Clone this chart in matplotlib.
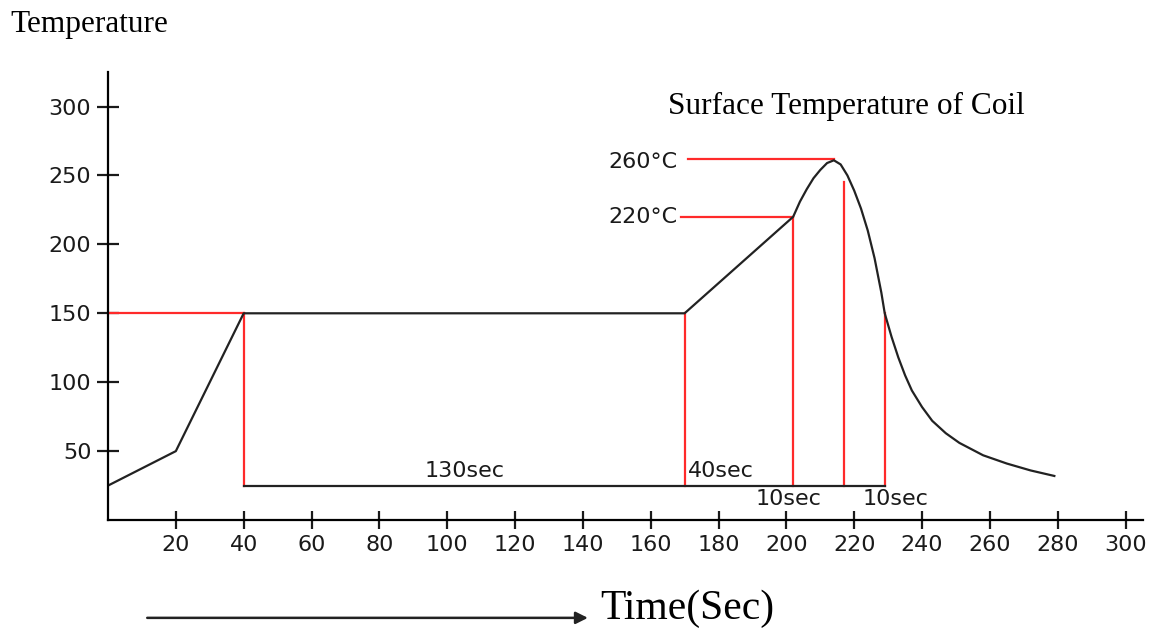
import numpy as np
import matplotlib
matplotlib.use("Agg")
import matplotlib.pyplot as plt

#   Кривая температуры
time = [0, 20, 40, 170, 202, 204, 206, 208, 210, 212, 214, 216, 218, 220,
        222, 224, 226, 228, 229, 231, 233, 235, 237, 240, 243, 247, 251,
        258, 265, 272, 279]
temp = [25, 50, 150, 150, 220, 231, 240, 248, 254, 259, 261, 258, 250, 239,
        226, 210, 190, 165, 150, 133, 118, 105, 94, 82, 72, 63, 56,
        47, 41, 36, 32]

x_ticks = [20, 40, 60, 80, 100, 120, 140, 160, 180, 200, 220, 240, 260, 280, 300]
y_ticks = [50, 100, 150, 200, 250, 300]

#   Красные отметки
t_marks = [40, 170, 202, 217, 229]
t_marks_top = [150, 150, 220, 245, 150]
base = 25
peak_t, peak_T = 214, 260
soak_T = 150
reflow_T = 220

fig = plt.figure(figsize=(11.65, 6.35), dpi=100)
ax = fig.add_axes([0.0927, 0.181, 0.888, 0.7055])
ax.set_xlim(0, 305)
ax.set_ylim(0, 325)

ax.spines['top'].set_visible(False)
ax.spines['right'].set_visible(False)
ax.spines['left'].set_linewidth(1.6)
ax.spines['bottom'].set_linewidth(1.6)

ax.set_xticks(x_ticks)
ax.set_yticks(y_ticks)
ax.tick_params(axis='x', direction='inout', length=13, width=1.6, pad=4, labelsize=16, colors='#1a1a1a')
ax.tick_params(axis='y', direction='inout', length=16, width=1.6, pad=4, labelsize=16, colors='#1a1a1a')

red = '#ff2a2a'
#   красные линии
ax.plot([0, 40], [soak_T, soak_T], color=red, lw=1.6)
ax.plot([171, peak_t], [peak_T + 2, peak_T + 2], color=red, lw=1.6)
ax.plot([169, 202], [reflow_T, reflow_T], color=red, lw=1.6)
for tm, top in zip(t_marks, t_marks_top):
    ax.plot([tm, tm], [base, top], color=red, lw=1.6)

#   базовая линия
ax.plot([40, 229], [base, base], color='#222222', lw=1.6)

#   кривая
ax.plot(time, temp, color='#222222', lw=1.6)

tf = dict(fontsize=16, color='#1a1a1a', family='DejaVu Sans')
ax.text(105, 28, "130sec", ha='center', va='bottom', **tf)
ax.text(171, 28, "40sec", ha='left', va='bottom', **tf)
ax.text(191, 8, "10sec", ha='left', va='bottom', **tf)
ax.text(222.5, 8, "10sec", ha='left', va='bottom', **tf)
ax.text(168, 260, "260°C", ha='right', va='center', **tf)
ax.text(168, 220, "220°C", ha='right', va='center', **tf)

sf = dict(family='Liberation Serif', color='black')
ax.text(165, 300, "Surface Temperature of Coil", ha='left', va='center', fontsize=22.5, **sf)
fig.text(0.009, 0.962, "Temperature", ha='left', va='center', fontsize=22.5, **sf)
fig.text(0.515, 0.042, "Time(Sec)", ha='left', va='center', fontsize=30, **sf)

fig.patches.append(matplotlib.patches.FancyArrowPatch(
    (0.124, 0.027), (0.507, 0.027), transform=fig.transFigure,
    arrowstyle='-|>', mutation_scale=18, lw=1.8, color='#222222'))

fig.savefig("out.png", dpi=100)
